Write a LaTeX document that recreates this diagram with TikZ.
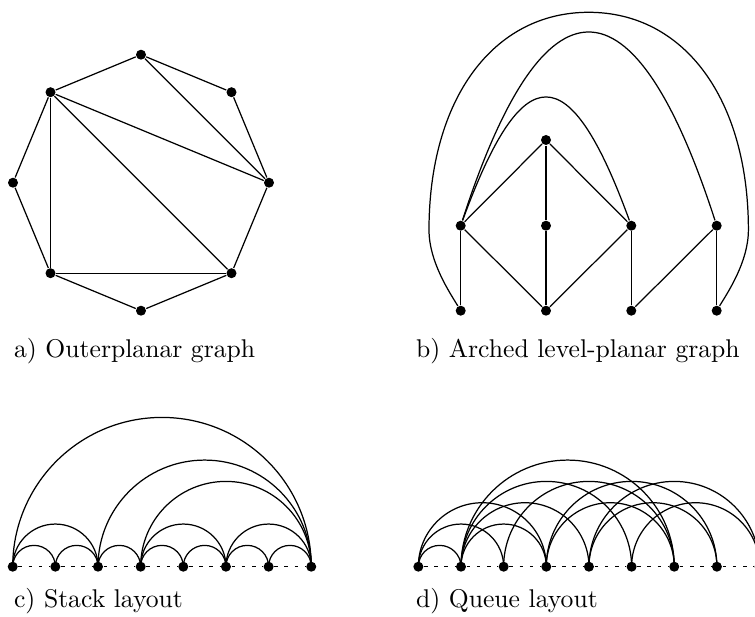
\documentclass[tikz,border=0pt]{standalone}
\usetikzlibrary{calc}
\begin{document}
\begin{tikzpicture}[x=0.39pt,y=-0.39pt,line width=0.48pt,
  vtx/.style={circle,fill=black,inner sep=0pt,minimum size=3.9pt},
  semi/.style={to path={let \p1=(\tikztostart),\p2=(\tikztotarget),\n1={(\x2-\x1)/2} in (\p1) arc[start angle=180,end angle=0,radius=\n1]}},
  baseline/.style={dash pattern=on 1.4pt off 2.6pt},
  lbl/.style={anchor=base west,inner sep=0pt}]
\path[use as bounding box] (0,0) rectangle (755,617);
\clip (0,0) rectangle (755,617);

% ---------- a) outerplanar graph ----------
\node[vtx] (aT)  at (141,54.7) {};
\node[vtx] (aUR) at (231.5,92.2) {};
\node[vtx] (aR)  at (269,182.7) {};
\node[vtx] (aLR) at (231.5,273.2) {};
\node[vtx] (aB)  at (141,310.7) {};
\node[vtx] (aLL) at (50.5,273.2) {};
\node[vtx] (aL)  at (13,182.7) {};
\node[vtx] (aUL) at (50.5,92.2) {};
\draw (aT) -- (aUR) -- (aR) -- (aLR) -- (aB) -- (aLL) -- (aL) -- (aUL) -- (aT);
\draw (aT) -- (aR);
\draw (aUL) -- (aR);
\draw (aUL) -- (aLR);
\draw (aUL) -- (aLL);
\draw (aLL) -- (aLR);
\node[lbl] (la) at (13.5,357) {a) Outerplanar graph};

% ---------- b) arched level-planar graph ----------
\node[vtx] (bT)  at (546,140) {};
\node[vtx] (bM1) at (460.7,225.7) {};
\node[vtx] (bM2) at (546,225.7) {};
\node[vtx] (bM3) at (631.3,225.7) {};
\node[vtx] (bM4) at (716.7,225.7) {};
\node[vtx] (bB1) at (460.7,310.7) {};
\node[vtx] (bB2) at (546,310.7) {};
\node[vtx] (bB3) at (631.3,310.7) {};
\node[vtx] (bB4) at (716.7,310.7) {};
\draw (bT) -- (bM1);
\draw (bT) -- (bM2);
\draw (bT) -- (bM3);
\draw (bM1) -- (bB1);
\draw (bM1) -- (bB2);
\draw (bM2) -- (bB2);
\draw (bM3) -- (bB2);
\draw (bM3) -- (bB3);
\draw (bM4) -- (bB3);
\draw (bM4) -- (bB4);
\draw (bM1) .. controls (522.7,55.8) and (569.3,55.8) .. (bM3);
\draw (bM1) .. controls (543.7,-30.8) and (633.7,-30.8) .. (bM4);
\draw (bB1) .. controls (450,293) and (429,262) .. (429,230)
      .. controls (429,99.4) and (492.9,12.3) .. (588.7,12.3)
      .. controls (684.5,12.3) and (748.4,99.4) .. (748.4,230)
      .. controls (748.4,262) and (727.4,293) .. (bB4);
\node[lbl] (lb) at (415.5,357) {b) Arched level-planar graph};

% ---------- c) stack layout ----------
\foreach \i in {0,...,7} {
  \node[vtx] (c\i) at ({12.7+42.65*\i},566.7) {};
}
\draw[baseline] (c0) -- (c1) -- (c2) -- (c3) -- (c4) -- (c5) -- (c6) -- (c7);
\foreach \a/\b in {0/1,1/2,2/3,3/4,4/5,5/6,6/7,0/2,3/5,5/7,2/7,3/7,0/7} {
  \draw (c\a) to[semi] (c\b);
}
\node[lbl] (lc) at (13.5,607) {c) Stack layout};

% ---------- d) queue layout ----------
\foreach \i in {0,...,8} {
  \node[vtx] (d\i) at ({418.35+42.65*\i},566.7) {};
}
\draw[baseline] (d0) -- (d1) -- (d2) -- (d3) -- (d4) -- (d5) -- (d6) -- (d7) -- (d8);
\foreach \a/\b in {0/1,0/2,0/3,1/3,1/4,1/5,1/6,2/6,3/6,3/7,4/7,4/8,5/8} {
  \draw (d\a) to[semi] (d\b);
}
\node[lbl] (ld) at (415.5,607) {d) Queue layout};
\end{tikzpicture}
\end{document}
